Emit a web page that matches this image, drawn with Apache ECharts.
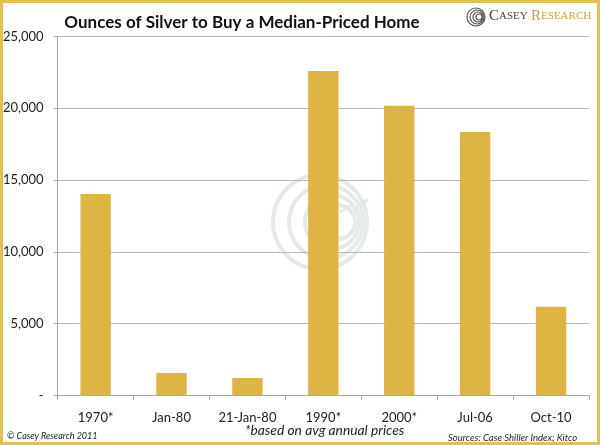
<!DOCTYPE html>
<html>
<head>
<meta charset="utf-8">
<script src="https://cdn.jsdelivr.net/npm/echarts@6/dist/echarts.min.js"></script>
<style>
  html, body { margin: 0; padding: 0; background: #fff; }
  #chart { width: 600px; height: 445px; }
</style>
</head>
<body>
<div id="chart"></div>
<script>
// values
var categories = ["1970*", "Jan-80", "21-Jan-80", "1990*", "2000*", "Jul-06", "Oct-10"];
var ounces = [14030, 1570, 1220, 22600, 20180, 18350, 6180];
var yTicks = [0, 5000, 10000, 15000, 20000, 25000];

var gold = "#DEB443";
var font = "Lato";

var chart = echarts.init(document.getElementById("chart"));

// faint target watermark behind the bars
var rings = [
  { cx: 320, cy: 222, r: 47 },
  { cx: 326, cy: 222, r: 37 },
  { cx: 332, cy: 222, r: 27 },
  { cx: 338, cy: 222, r: 17 }
];
var watermark = rings.map(function (c) {
  return {
    type: "circle",
    shape: { cx: c.cx, cy: c.cy, r: c.r },
    style: { fill: null, stroke: "#E4EAEA", lineWidth: 4 },
    z: -1
  };
});
watermark.push({
  type: "polyline",
  shape: { points: [[340, 212], [352, 205], [355, 210], [368, 199]] },
  style: { fill: null, stroke: "#E4EAEA", lineWidth: 3 },
  z: -1
});

// small logo mark top right
var logoRings = [9, 7, 5, 3].map(function (r, i) {
  return {
    type: "circle",
    shape: { cx: 476 + i, cy: 17, r: r },
    style: { fill: null, stroke: "#555", lineWidth: 1.2 }
  };
});

var option = {
  animation: false,
  backgroundColor: "#fff",
  title: {
    text: "Ounces of Silver to Buy a Median-Priced Home",
    left: 237,
    top: 9,
    textAlign: "center",
    textStyle: { fontFamily: font, fontSize: 17, fontWeight: "bold", color: "#111" }
  },
  grid: { left: 57, right: 11, top: 36.5, bottom: 49.5, containLabel: false },
  xAxis: {
    type: "category",
    data: categories,
    axisLine: { lineStyle: { color: "#A6A6A6", width: 1 } },
    axisTick: { show: true, length: 4, lineStyle: { color: "#A6A6A6" } },
    axisLabel: { fontFamily: font, fontSize: 13, color: "#222", margin: 16 }
  },
  yAxis: {
    type: "value",
    min: 0,
    max: 25000,
    interval: 5000,
    axisLine: { show: true, lineStyle: { color: "#A6A6A6", width: 1 } },
    axisTick: { show: true, length: 4, lineStyle: { color: "#A6A6A6" } },
    splitLine: { lineStyle: { color: "#B8B8B8", width: 1 } },
    axisLabel: {
      fontFamily: font,
      fontSize: 13,
      color: "#222",
      margin: 14,
      formatter: function (v) {
        if (yTicks.indexOf(v) < 0) return "";
        return v === 0 ? "-" : v.toLocaleString("en-US");
      }
    }
  },
  series: [{
    type: "bar",
    data: ounces,
    barCategoryGap: "60%",
    itemStyle: { color: gold },
    z: 3
  }],
  graphic: watermark.concat(logoRings).concat([
    {
      type: "text",
      left: 489,
      top: 9,
      style: {
        rich: {
          big: { fontFamily: "Liberation Serif", fontSize: 15, fill: "#444" },
          sm: { fontFamily: "Liberation Serif", fontSize: 11, fill: "#444" },
          gbig: { fontFamily: "Liberation Serif", fontSize: 15, fill: "#C9A13B" },
          gsm: { fontFamily: "Liberation Serif", fontSize: 11, fill: "#C9A13B" }
        },
        text: "{big|C}{sm|ASEY} {gbig|R}{gsm|ESEARCH}"
      }
    },
    {
      type: "text",
      left: 7,
      top: 432,
      style: { text: "© Casey Research 2011", fontFamily: font, fontSize: 9, fontStyle: "italic", fill: "#222" }
    },
    {
      type: "text",
      left: 245,
      top: 424,
      style: { text: "*based on avg annual prices", fontFamily: font, fontSize: 13.8, fontStyle: "italic", fill: "#222" }
    },
    {
      type: "text",
      left: 448,
      top: 433,
      style: { text: "Sources: Case Shiller Index; Kitco", fontFamily: font, fontSize: 9.5, fontStyle: "italic", fill: "#222" }
    },
    {
      type: "rect",
      shape: { x: 1.5, y: 1.5, width: 597, height: 442 },
      style: { fill: null, stroke: "#E6BE4F", lineWidth: 3 },
      z: 10
    }
  ])
};

chart.setOption(option);
</script>
</body>
</html>
